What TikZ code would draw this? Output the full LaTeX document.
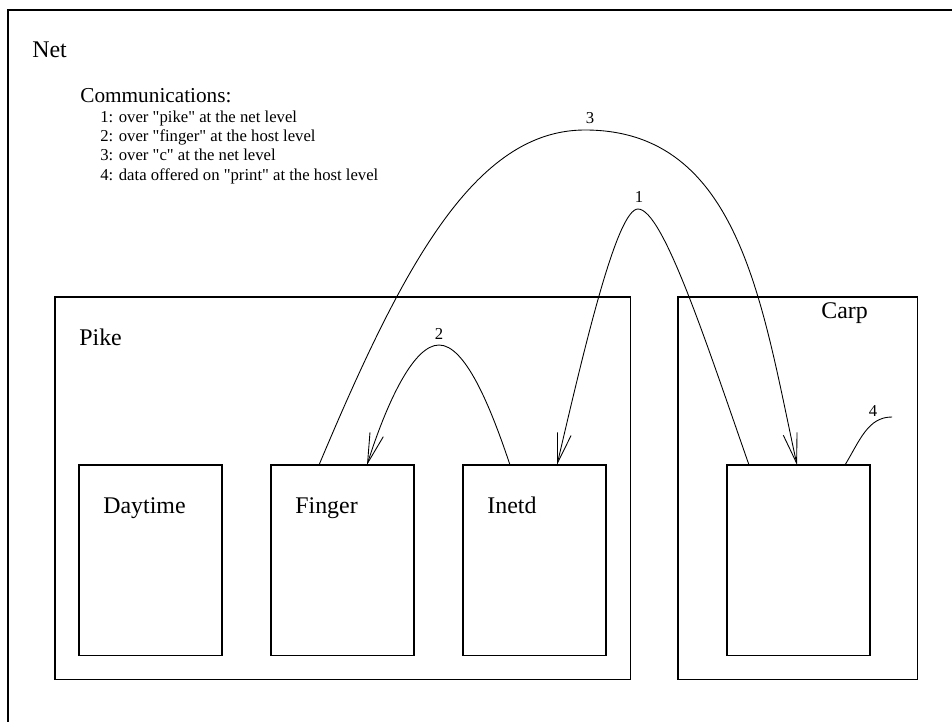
\documentclass[tikz,border=0pt]{standalone}
\usepackage{fontspec}
\setmainfont{Liberation Serif}[Ligatures=TeXOff]
\usetikzlibrary{arrows.meta,calc}
\tikzset{
  host/.style={draw, line width=0.6pt, inner sep=0pt, outer sep=0pt,
    minimum height=7.66cm, anchor=north west},
  proc/.style={draw, line width=0.6pt, inner sep=0pt, outer sep=0pt,
    minimum width=2.86cm, minimum height=3.82cm, anchor=north west},
  boxlabel/.style={anchor=base west, inner sep=0pt, font=\fontsize{13.6}{16}\selectfont},
  heading/.style={anchor=base west, inner sep=0pt, font=\fontsize{12.1}{14}\selectfont},
  note/.style={anchor=base west, inner sep=0pt, font=\fontsize{9.5}{11}\selectfont},
  msg/.style={line width=0.5pt, -{Straight Barb[length=0.6cm,width=0.28cm]}},
  msgnum/.style={inner sep=0pt, font=\fontsize{9.5}{11}\selectfont}
}
\begin{document}
\begin{tikzpicture}[x=0.02cm, y=-0.02cm]
\useasboundingbox (0,0) rectangle (952,722);
% the net (only its top and left sides are in view)
\draw[line width=0.6pt] (952,10) -- (8,10) -- (8,722);
\node[boxlabel] (netlbl) at (32,58) {Net};

% legend
\node[heading] (comm) at (80,103) {Communications:};
\foreach \i/\txt in {1/over "pike" at the net level,
                     2/over "finger" at the host level,
                     3/over "c" at the net level,
                     4/data offered on "print" at the host level}
  \node[note] (note\i) at (100,{103+19.3*\i}) {\i: \txt};

% hosts
\node[host, minimum width=11.52cm] (pike) at (55,297) {};
\node[host, minimum width=4.8cm] (carp) at (678,297) {};
\node[boxlabel] (pikelbl) at ($(pike.north west)+(24,49)$) {Pike};
\node[boxlabel] (carplbl) at ($(carp.north west)+(143,22)$) {Carp};

% processes
\node[proc] (daytime) at (79,465) {};
\node[proc] (finger) at (271,465) {};
\node[proc] (inetd) at (463,465) {};
\node[proc] (carpproc) at (727,465) {};
\foreach \p/\t in {daytime/Daytime, finger/Finger, inetd/Inetd}
  \node[boxlabel] (\p lbl) at ($(\p.north west)+(24,48)$) {\t};

% communications
\draw[msg] ($(carpproc.north west)+(22,0)$)
  .. controls (707,345) and (663,209) .. (638,209)
  .. controls (617,209) and (585,345) .. ($(inetd.north west)+(94,0)$);
\draw[msg] ($(inetd.north west)+(47,0)$)
  .. controls (490,405) and (465,345) .. (439,345)
  .. controls (413,345) and (386,405) .. ($(finger.north west)+(96,0)$);
\draw[msg] ($(finger.north west)+(48,0)$)
  .. controls (403,265) and (475,130) .. (585,130)
  .. controls (740,130) and (762,305) .. ($(carpproc.north west)+(70,0)$);
\coordinate (printout) at (892,417);
\draw[line width=0.5pt] ($(carpproc.north west)+(118,0)$)
  .. controls (860,440) and (868,417) .. (printout);

\node[msgnum] (n1) at (639,197) {1};
\node[msgnum] (n2) at (439,334) {2};
\node[msgnum] (n3) at (590,118) {3};
\node[msgnum] (n4) at (873,411) {4};
\end{tikzpicture}
\end{document}
